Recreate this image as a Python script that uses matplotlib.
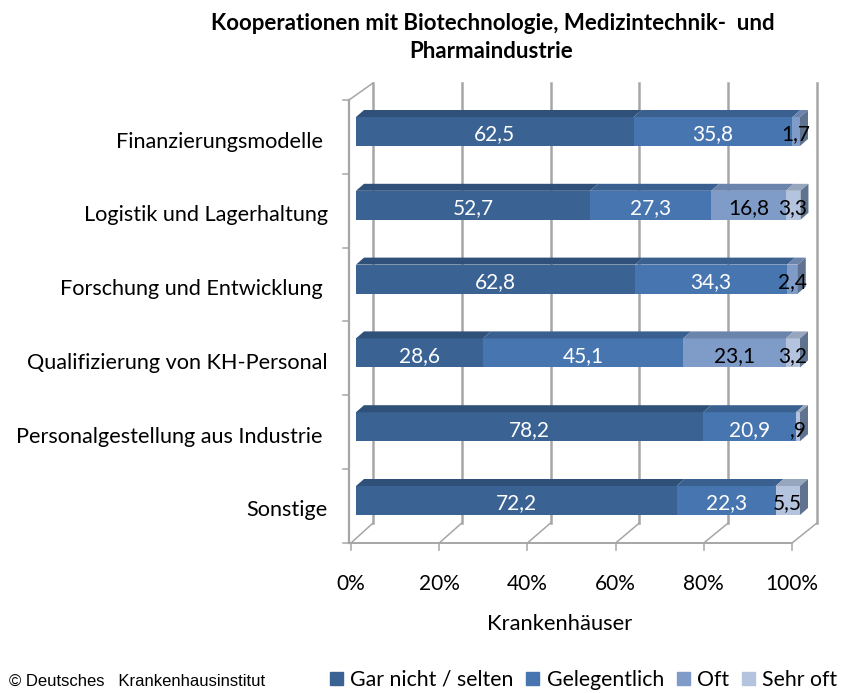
import matplotlib
matplotlib.use('Agg')
import matplotlib.pyplot as plt
from matplotlib.patches import Patch, Polygon

categories = ['Finanzierungsmodelle ', 'Logistik und Lagerhaltung', 'Forschung und Entwicklung ',
              'Qualifizierung von KH-Personal', 'Personalgestellung aus Industrie ', 'Sonstige']
series_names = ['Gar nicht / selten', 'Gelegentlich', 'Oft', 'Sehr oft']
gar_nicht = [62.5, 52.7, 62.8, 28.6, 78.2, 72.2]
gelegentlich = [35.8, 27.3, 34.3, 45.1, 20.9, 22.3]
oft = [1.7, 16.8, 2.4, 23.1, 0, 0]
sehr_oft = [0, 3.3, 0, 3.2, 0.9, 5.5]
value_labels = [['62,5', '52,7', '62,8', '28,6', '78,2', '72,2'],
                ['35,8', '27,3', '34,3', '45,1', '20,9', '22,3'],
                ['1,7', '16,8', '2,4', '23,1', '', ''],
                ['', '3,3', '', '3,2', ',9', '5,5']]
x_ticks = [0, 20, 40, 60, 80, 100]

front_colors = ['#3A6394', '#4675B0', '#7F9BC8', '#B4C4DF']
top_colors = ['#2F5078', '#3A6090', '#6B84AB', '#98A6BD']
side_color = '#5F7391'
text_colors = ['white', 'white', 'black', 'black']

W, H = 859, 693
fig = plt.figure(figsize=(W / 100, H / 100), dpi=100)
plt.rcParams['font.family'] = ['Lato', 'DejaVu Sans']

# axes = plane of the bar front faces
ax = fig.add_axes([356 / W, 1 - 500.5 / H, 444 / W, 369 / H])
ax.set_xlim(0, 100)
ax.set_ylim(5, 0)
ax.axis('off')

px = 100 / 444
py = 5 / 369
bar_h = 29 * py


def floor_x(v, dx=0):
    # x position on a plane shifted in depth, in data units
    return v * 441 / 444 + dx * px


# back wall and floor, offsets in pixels from the bar plane
grid = '#A6A6A6'
y_front = 5 + 42.5 * py
y_back = 5 + 22.5 * py
y_top_front = -31.5 * py
y_top_back = -48.5 * py
for t in x_ticks:
    xb = t + 17 * px
    xf = floor_x(t, -5)
    ax.plot([xb, xb], [y_top_back, y_back], color=grid, lw=1.8, clip_on=False, zorder=1)
    ax.plot([xf, xb], [y_front, y_back], color=grid, lw=1.1, clip_on=False, zorder=1)
    ax.plot([xf, xf], [y_front, y_front + 7 * py], color=grid, lw=1.1, clip_on=False, zorder=1)
    ax.text(xf, 5 + 83 * py, f'{t}%', ha='center', va='center', fontsize=15, color='black', clip_on=False)

x0 = floor_x(0, -5)
x1 = floor_x(100, -5)
ax.plot([x0, x1], [y_front, y_front], color=grid, lw=1.4, clip_on=False, zorder=1)
ax.plot([x0 - 2 * px, x0 - 2 * px], [y_top_front, y_front], color=grid, lw=1.6, clip_on=False, zorder=1)
ax.plot([x0 - 2 * px, 17 * px], [y_top_front, y_top_back], color=grid, lw=1.1, clip_on=False, zorder=1)
for i in range(7):
    yt = y_top_front + i * 73.8 * py
    ax.plot([x0 - 8 * px, x0 - 2 * px], [yt, yt], color=grid, lw=1.1, clip_on=False, zorder=1)

# bars
dx = 8 * px
dy = 7 * py
series = [gar_nicht, gelegentlich, oft, sehr_oft]
for i in range(len(categories)):
    left = 0
    for s, vals in enumerate(series):
        v = vals[i]
        if v == 0:
            continue
        ax.barh(i, v, left=left, height=bar_h, color=front_colors[s], edgecolor='none', zorder=3, clip_on=False)
        top = [(left, i - bar_h / 2), (left + v, i - bar_h / 2),
               (left + v + dx, i - bar_h / 2 - dy), (left + dx, i - bar_h / 2 - dy)]
        ax.add_patch(Polygon(top, color=top_colors[s], lw=0, clip_on=False, zorder=3))
        if value_labels[s][i]:
            ax.text(left + v / 2, i + 3 * py, value_labels[s][i], ha='center', va='center',
                    fontsize=15, color=text_colors[s], zorder=5, clip_on=False)
        left += v
    side = [(left, i - bar_h / 2), (left + dx, i - bar_h / 2 - dy),
            (left + dx, i + bar_h / 2 - dy), (left, i + bar_h / 2)]
    ax.add_patch(Polygon(side, color=side_color, lw=0, clip_on=False, zorder=3))
    ax.text(-28 * px, i + 10 * py, categories[i], ha='right', va='center', fontsize=15.6, color='black')

ax.text(45.8, 5 + 124 * py, 'Krankenhäuser', ha='center', va='center', fontsize=15.8)

fig.text(493 / W, 1 - 23 / H, 'Kooperationen mit Biotechnologie, Medizintechnik-  und',
         ha='center', va='center', fontsize=16, fontweight='bold')
fig.text(491 / W, 1 - 52 / H, 'Pharmaindustrie', ha='center', va='center', fontsize=16, fontweight='bold')
fig.text(9 / W, 1 - 681 / H, '© Deutsches   Krankenhausinstitut', ha='left', va='center',
         fontsize=12, family='Liberation Sans')

handles = [Patch(color=c, label=n) for c, n in zip(front_colors, series_names)]
fig.legend(handles=handles, ncol=4, frameon=False, loc='center left', bbox_to_anchor=(330 / W, 1 - 680 / H),
           fontsize=15.3, handlelength=0.62, handleheight=0.62, handletextpad=0.33, columnspacing=0.6,
           borderpad=0, borderaxespad=0)

fig.savefig('out.png', dpi=100)
